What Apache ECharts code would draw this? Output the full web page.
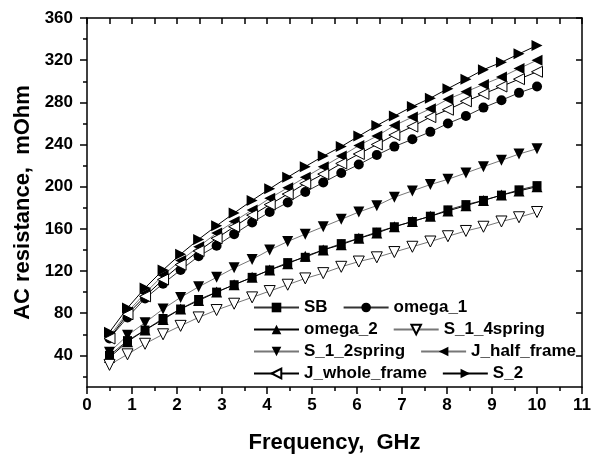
<!DOCTYPE html>
<html>
<head>
<meta charset="utf-8">
<script src="https://cdn.jsdelivr.net/npm/echarts@6/dist/echarts.min.js"></script>
<style>
  html, body { margin: 0; padding: 0; background: #fff; }
  #chart { width: 594px; height: 459px; }
</style>
</head>
<body>
<div id="chart"></div>
<script>
const freq = [0.5, 0.9, 1.29, 1.69, 2.08, 2.48, 2.88, 3.27, 3.67, 4.06, 4.46, 4.85, 5.25,
  5.65, 6.04, 6.44, 6.83, 7.23, 7.63, 8.02, 8.42, 8.81, 9.21, 9.6, 10.0]

const sb = [40, 54, 64, 75, 84, 93, 100, 107, 114, 121, 128, 133, 140, 146, 151, 157, 162, 167, 172, 178, 183, 187, 192, 197, 201]
const omega1 = [56, 76, 94, 108, 121, 134, 144, 155, 166, 176, 185, 195, 204, 213, 221, 230, 238, 245, 252, 260, 267, 275, 282, 289, 295]
const omega2 = [38, 53, 64, 74, 84, 92, 100, 107, 114, 121, 127, 134, 140, 145, 151, 156, 162, 167, 172, 177, 182, 187, 192, 196, 200]
const s14spring = [31, 41, 51, 60, 68, 76, 83, 89, 95, 101, 107, 113, 118, 124, 129, 133, 138, 143, 148, 153, 158, 162, 167, 171, 176]
const s12spring = [43, 59, 71, 84, 95, 105, 114, 123, 131, 140, 148, 155, 162, 169, 176, 182, 190, 196, 202, 207, 213, 219, 225, 231, 236]
const jHalf = [58, 81, 99, 116, 130, 143, 156, 167, 178, 189, 199, 209, 219, 229, 239, 248, 258, 266, 274, 283, 290, 297, 304, 312, 320]
const jWhole = [56, 79, 96, 112, 126, 139, 151, 162, 173, 183, 193, 203, 212, 222, 231, 240, 249, 257, 266, 273, 281, 288, 295, 302, 309]
const s2 = [62, 85, 104, 121, 136, 150, 163, 175, 187, 198, 209, 219, 229, 238, 248, 258, 267, 276, 284, 293, 302, 311, 318, 326, 334]

const yMajor = [40, 80, 120, 160, 200, 240, 280, 320, 360]
const yMinor = [20, 60, 100, 140, 180, 220, 260, 300, 340]

const font = 'Liberation Sans, Arial, sans-serif'

function pairs(ys) {
  return freq.map((f, i) => [f, ys[i]])
}

// name, values, symbol, rotate, hollow, line colour
const defs = [
  ['SB', sb, 'rect', 0, false, '#333'],
  ['omega_1', omega1, 'circle', 0, false, '#333'],
  ['omega_2', omega2, 'triangle', 0, false, '#000'],
  ['S_1_4spring', s14spring, 'triangle', 180, true, '#777'],
  ['S_1_2spring', s12spring, 'triangle', 180, false, '#777'],
  ['J_half_frame', jHalf, 'triangle', 90, false, '#777'],
  ['J_whole_frame', jWhole, 'triangle', 90, true, '#000'],
  ['S_2', s2, 'triangle', -90, false, '#000']
]

const series = defs.map(d => ({
  name: d[0],
  type: 'line',
  data: pairs(d[1]),
  symbol: d[2],
  symbolRotate: d[3],
  symbolSize: d[2] === 'rect' ? 9 : (d[2] === 'circle' ? 10 : 11),
  showSymbol: true,
  xAxisIndex: 0,
  yAxisIndex: 0,
  lineStyle: { color: d[5], width: 1 },
  itemStyle: {
    color: d[4] ? '#fff' : '#000',
    borderColor: '#000',
    borderWidth: d[4] ? 1 : 0
  },
  animation: false
}))

const legendRows = [
  { names: ['SB', 'omega_1'], top: 294 },
  { names: ['omega_2', 'S_1_4spring'], top: 316 },
  { names: ['S_1_2spring', 'J_half_frame'], top: 338 },
  { names: ['J_whole_frame', 'S_2'], top: 360 }
]

const chart = echarts.init(document.getElementById('chart'))
chart.setOption({
  backgroundColor: '#fff',
  textStyle: { fontFamily: font },
  grid: { left: 87, right: 10, top: 18, bottom: 71 },
  legend: legendRows.map(r => ({
    data: r.names,
    left: 248,
    top: r.top,
    orient: 'horizontal',
    itemWidth: 45,
    itemHeight: 12,
    itemGap: 15,
    textStyle: { fontFamily: font, fontWeight: 'bold', fontSize: 17, color: '#000' }
  })),
  xAxis: [{
    type: 'value',
    min: 0,
    max: 11,
    interval: 1,
    name: 'Frequency,  GHz',
    nameLocation: 'middle',
    nameGap: 45,
    nameTextStyle: { fontFamily: font, fontWeight: 'bold', fontSize: 22, color: '#000' },
    axisLine: { lineStyle: { color: '#000', width: 1.5 } },
    axisTick: { length: 7, lineStyle: { color: '#000', width: 1.5 } },
    minorTick: { show: true, splitNumber: 2, length: 4, lineStyle: { color: '#000', width: 1.5 } },
    axisLabel: { margin: 10, fontFamily: font, fontWeight: 'bold', fontSize: 17, color: '#000' },
    splitLine: { show: false }
  }, {
    type: 'value',
    position: 'top',
    min: 0,
    max: 11,
    interval: 0.5,
    axisLine: { lineStyle: { color: '#000', width: 1.5 } },
    axisTick: { inside: true, length: 6, lineStyle: { color: '#000', width: 1.5 } },
    axisLabel: { show: false },
    splitLine: { show: false }
  }],
  yAxis: [{
    type: 'value',
    position: 'left',
    min: 10,
    max: 360,
    name: 'AC resistance,  mOhm',
    nameLocation: 'middle',
    nameGap: 52,
    nameTextStyle: { fontFamily: font, fontWeight: 'bold', fontSize: 22, color: '#000' },
    axisLine: { show: true, lineStyle: { color: '#000', width: 1.5 } },
    axisTick: { show: true, length: 7, customValues: yMajor, lineStyle: { color: '#000', width: 1.5 } },
    axisLabel: { margin: 14, customValues: yMajor, fontFamily: font, fontWeight: 'bold', fontSize: 17, color: '#000' },
    splitLine: { show: false }
  }, {
    type: 'value',
    position: 'left',
    min: 10,
    max: 360,
    axisLine: { show: false },
    axisTick: { show: true, length: 4, customValues: yMinor, lineStyle: { color: '#000', width: 1.5 } },
    axisLabel: { show: false },
    splitLine: { show: false }
  }, {
    type: 'value',
    position: 'right',
    min: 10,
    max: 360,
    axisLine: { show: true, lineStyle: { color: '#000', width: 1.5 } },
    axisTick: { show: true, inside: true, length: 6, customValues: yMajor, lineStyle: { color: '#000', width: 1.5 } },
    axisLabel: { show: false },
    splitLine: { show: false }
  }],
  series: series
})
</script>
</body>
</html>
